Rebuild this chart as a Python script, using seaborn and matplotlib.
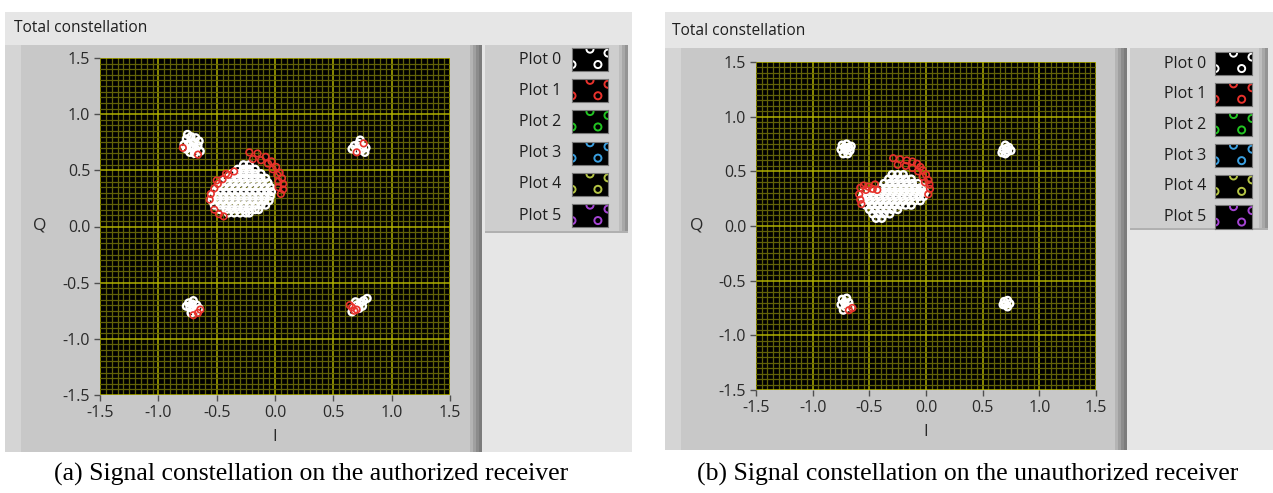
import numpy as np
import pandas as pd
import matplotlib.pyplot as plt
import seaborn as sns
from matplotlib.patches import Rectangle
from matplotlib.ticker import MultipleLocator

W, H = 1273, 493

# ---- data ----
# (a) authorized receiver
a_white_corner_i = [-0.76, -0.72, -0.68, -0.65, -0.78, -0.74, -0.70, -0.66, -0.76, -0.72, -0.68, -0.64, -0.73, -0.69, -0.75, -0.70,
                    0.68, 0.72, 0.75, 0.70, 0.74, 0.78, 0.77, 0.73, 0.66,
                    -0.74, -0.70, -0.67, -0.73, -0.70, -0.76, -0.72, -0.68, -0.65, -0.71,
                    0.70, 0.73, 0.76, 0.79, 0.68, 0.72, 0.66, 0.75, 0.69]
a_white_corner_q = [0.78, 0.80, 0.79, 0.76, 0.73, 0.74, 0.75, 0.72, 0.69, 0.70, 0.69, 0.67, 0.66, 0.65, 0.82, 0.71,
                    0.72, 0.74, 0.71, 0.68, 0.68, 0.70, 0.66, 0.77, 0.69,
                    -0.68, -0.66, -0.70, -0.72, -0.74, -0.71, -0.77, -0.76, -0.73, -0.69,
                    -0.70, -0.68, -0.66, -0.64, -0.73, -0.73, -0.76, -0.71, -0.67]
a_blob_q = [0.55, 0.51, 0.47, 0.43, 0.39, 0.35, 0.31, 0.27, 0.23, 0.19, 0.15, 0.12]
a_blob_i = [[-0.27, -0.22],
            [-0.32, -0.27, -0.22, -0.17],
            [-0.37, -0.32, -0.27, -0.22, -0.17, -0.12],
            [-0.42, -0.37, -0.32, -0.27, -0.22, -0.17, -0.12, -0.08],
            [-0.46, -0.41, -0.36, -0.31, -0.26, -0.21, -0.16, -0.11, -0.06],
            [-0.49, -0.44, -0.39, -0.34, -0.29, -0.24, -0.19, -0.14, -0.09, -0.04],
            [-0.52, -0.47, -0.42, -0.37, -0.32, -0.27, -0.22, -0.17, -0.12, -0.07, -0.03],
            [-0.54, -0.49, -0.44, -0.39, -0.34, -0.29, -0.24, -0.19, -0.14, -0.09, -0.04],
            [-0.54, -0.49, -0.44, -0.39, -0.34, -0.29, -0.24, -0.19, -0.14, -0.09, -0.05],
            [-0.52, -0.47, -0.42, -0.37, -0.32, -0.27, -0.22, -0.17, -0.12, -0.08],
            [-0.47, -0.42, -0.37, -0.32, -0.27, -0.22, -0.17, -0.14],
            [-0.40, -0.35, -0.30, -0.25, -0.22]]
a_red_i = [-0.22, -0.15, -0.08, -0.03, 0.01, 0.04, 0.06, 0.07, 0.07, 0.05,
           -0.19, -0.12, -0.06, -0.02, 0.02, 0.03, 0.03,
           -0.45, -0.40, -0.35, -0.49, -0.52, -0.55, -0.56, -0.50, -0.42,
           -0.48, -0.44, -0.52,
           -0.70, -0.66, -0.64, -0.79, -0.66, 0.66, 0.68, 0.70, 0.64, 0.70, 0.76]
a_red_q = [0.66, 0.65, 0.62, 0.58, 0.53, 0.48, 0.43, 0.38, 0.33, 0.29,
           0.60, 0.59, 0.56, 0.51, 0.46, 0.40, 0.35,
           0.42, 0.46, 0.49, 0.38, 0.34, 0.29, 0.24, 0.41, 0.47,
           0.11, 0.09, 0.15,
           -0.79, -0.77, -0.74, 0.70, 0.64, -0.72, -0.75, -0.74, -0.70, 0.66, 0.74]

# (b) unauthorized receiver
b_white_corner_i = [-0.74, -0.70, -0.66, -0.75, -0.71, -0.67, -0.73, -0.69, -0.72, -0.68,
                    0.70, 0.73, 0.68, 0.72, 0.75, 0.70, 0.67, 0.71,
                    -0.74, -0.70, -0.72, -0.68, -0.75, -0.71, -0.67, -0.73,
                    0.69, 0.72, 0.74, 0.70, 0.72, 0.68]
b_white_corner_q = [0.74, 0.75, 0.73, 0.70, 0.70, 0.69, 0.66, 0.66, 0.72, 0.72,
                    0.74, 0.72, 0.70, 0.68, 0.69, 0.66, 0.67, 0.71,
                    -0.67, -0.66, -0.70, -0.70, -0.72, -0.74, -0.74, -0.77,
                    -0.69, -0.68, -0.71, -0.72, -0.74, -0.72]
b_blob_q = [0.47, 0.43, 0.39, 0.35, 0.31, 0.27, 0.23, 0.19, 0.15, 0.11, 0.07]
b_blob_i = [[-0.30, -0.25, -0.20],
            [-0.33, -0.28, -0.23, -0.18, -0.13],
            [-0.37, -0.32, -0.27, -0.22, -0.17, -0.12, -0.07],
            [-0.40, -0.35, -0.30, -0.25, -0.20, -0.15, -0.10, -0.05, -0.02],
            [-0.55, -0.50, -0.45, -0.40, -0.35, -0.30, -0.25, -0.20, -0.15, -0.10, -0.05, -0.01],
            [-0.56, -0.51, -0.46, -0.41, -0.36, -0.31, -0.26, -0.21, -0.16, -0.11, -0.06, -0.02],
            [-0.55, -0.50, -0.45, -0.40, -0.35, -0.30, -0.25, -0.20, -0.15, -0.10, -0.05],
            [-0.53, -0.48, -0.43, -0.38, -0.33, -0.28, -0.23, -0.18, -0.13],
            [-0.50, -0.45, -0.40, -0.35, -0.30, -0.25],
            [-0.47, -0.42, -0.37, -0.32],
            [-0.44, -0.39]]
b_red_i = [-0.29, -0.23, -0.17, -0.12, -0.08, -0.05, -0.03, 0.00, 0.02, 0.03, 0.035, 0.02,
           -0.25, -0.18, -0.12, -0.07, -0.03, -0.01,
           -0.58, -0.55, -0.51, -0.47, -0.59, -0.58, -0.57, -0.53, -0.45, -0.43,
           -0.68, -0.65]
b_red_q = [0.62, 0.61, 0.60, 0.59, 0.57, 0.54, 0.51, 0.47, 0.42, 0.38, 0.34, 0.29,
           0.56, 0.55, 0.53, 0.50, 0.45, 0.40,
           0.35, 0.37, 0.36, 0.34, 0.29, 0.24, 0.20, 0.33, 0.38, 0.33,
           -0.77, -0.75]

plot_names = ['Plot 0', 'Plot 1', 'Plot 2', 'Plot 3', 'Plot 4', 'Plot 5']
plot_colors = ['#ffffff', '#e8322c', '#22c422', '#3a9fe0', '#b4c444', '#a544d4']
captions = ['(a) Signal constellation on the authorized receiver',
            '(b) Signal constellation on the unauthorized receiver']
ticks = [-1.5, -1.0, -0.5, 0.0, 0.5, 1.0, 1.5]


def series(corner_i, corner_q, blob_i, blob_q):
    xs = list(corner_i)
    ys = list(corner_q)
    for q, row in zip(blob_q, blob_i):
        xs += row
        ys += [q] * len(row)
    return pd.DataFrame({'I': xs, 'Q': ys})


panels = [
    dict(white=series(a_white_corner_i, a_white_corner_q, a_blob_i, a_blob_q),
         red=pd.DataFrame({'I': a_red_i, 'Q': a_red_q}),
         outer=(5, 12, 632, 452), head=(14, 28), frame=(5, 45, 482, 452),
         legend=(485, 45, 628, 233), plot=(100, 58, 450, 395),
         qlab=(40, 226), ilab=(275, 437), ltext=561, sw=(572, 608), ly0=59.5, ldy=31.2,
         cap=(311, 474)),
    dict(white=series(b_white_corner_i, b_white_corner_q, b_blob_i, b_blob_q),
         red=pd.DataFrame({'I': b_red_i, 'Q': b_red_q}),
         outer=(665, 12, 1273, 450), head=(672, 31), frame=(665, 48, 1127, 450),
         legend=(1130, 48, 1268, 230), plot=(756, 62, 1096, 390),
         qlab=(697, 226), ilab=(926, 432), ltext=1206, sw=(1215, 1252), ly0=63.5, ldy=30.7,
         cap=(968, 474)),
]

sns.set_theme(style='dark')
plt.rcParams['font.family'] = ['Open Sans', 'DejaVu Sans']

fig = plt.figure(figsize=(W / 100, H / 100), dpi=100)
fig.patch.set_facecolor('white')


def rect(x0, y0, x1, y1):
    return [x0 / W, 1 - y1 / H, (x1 - x0) / W, (y1 - y0) / H]


def box(x0, y0, x1, y1, color, z=-5):
    fig.add_artist(Rectangle((x0 / W, 1 - y1 / H), (x1 - x0) / W, (y1 - y0) / H,
                             transform=fig.transFigure, facecolor=color,
                             edgecolor='none', zorder=z))


def ftext(x, y, s, **kw):
    fig.text(x / W, 1 - y / H, s, **kw)


for idx, p in enumerate(panels):
    box(*p['outer'], '#e6e6e6', z=-6)
    # graph frame with light left strip and dark right bevel
    fx0, fy0, fx1, fy1 = p['frame']
    box(fx0, fy0, fx1, fy1, '#c8c8c8')
    box(fx0, fy0, fx0 + 16, fy1, '#d5d5d5', z=-4)
    for k, c in enumerate(['#b4b4b4', '#a0a0a0', '#8c8c8c', '#7c7c7c']):
        box(fx1 - 12 + k * 3, fy0, fx1 - 9 + k * 3, fy1, c, z=-4)
    # legend box
    lx0, ly0, lx1, ly1 = p['legend']
    box(lx0, ly0, lx1, ly1, '#cecece')
    for k, c in enumerate(['#bdbdbd', '#a8a8a8', '#949494']):
        box(lx1 - 9 + k * 3, ly0, lx1 - 6 + k * 3, ly1, c, z=-4)
    box(lx0, ly1 - 2, lx1, ly1, '#b0b0b0', z=-4)

    ftext(*p['head'], 'Total constellation', fontsize=11.2, color='#1e1e1e', va='center')

    ax = fig.add_axes(rect(*p['plot']))
    ax.set_facecolor('black')
    sns.scatterplot(data=p['white'], x='I', y='Q', ax=ax, marker='o', s=24,
                    facecolors='none', edgecolor=plot_colors[0], linewidth=1.7,
                    legend=False, zorder=3)
    sns.scatterplot(data=p['red'], x='I', y='Q', ax=ax, marker='o', s=22,
                    facecolors='none', edgecolor=plot_colors[1], linewidth=1.2,
                    legend=False, zorder=4)
    ax.set_xlim(-1.5, 1.5)
    ax.set_ylim(-1.5, 1.5)
    ax.set_xticks(ticks)
    ax.set_yticks(ticks)
    ax.set_xticklabels([f'{t:.1f}' for t in ticks])
    ax.set_yticklabels([f'{t:.1f}' for t in ticks])
    ax.xaxis.set_minor_locator(MultipleLocator(0.05))
    ax.yaxis.set_minor_locator(MultipleLocator(0.05))
    ax.grid(which='minor', color='#626208', linewidth=0.9, zorder=0)
    ax.grid(which='major', color='#b0b000', linewidth=1.1, zorder=1)
    ax.set_axisbelow(True)
    ax.tick_params(which='major', length=4, width=1, color='#505050',
                   labelsize=11.5, labelcolor='#2a2a2a', pad=3, bottom=True, left=True)
    ax.tick_params(which='minor', length=0)
    ax.set_xlabel('')
    ax.set_ylabel('')
    for s in ax.spines.values():
        s.set_visible(False)

    ftext(*p['qlab'], 'Q', fontsize=12.5, color='#2a2a2a', ha='center', va='center')
    ftext(*p['ilab'], 'I', fontsize=12, color='#2a2a2a', ha='center', va='center')

    # legend rows
    sx0, sx1 = p['sw']
    for k, (name, col) in enumerate(zip(plot_names, plot_colors)):
        cy = p['ly0'] + k * p['ldy']
        ftext(p['ltext'], cy, name, fontsize=11.5, color='#1e1e1e', ha='right', va='center')
        sax = fig.add_axes(rect(sx0, cy - 11.5, sx1, cy + 11.5))
        sax.set_facecolor('black')
        sax.set_xlim(0, 1)
        sax.set_ylim(0, 1)
        sax.set_xticks([])
        sax.set_yticks([])
        for s in sax.spines.values():
            s.set_color('#777777')
            s.set_linewidth(0.8)
        sns.scatterplot(x=[0.5, 0.0, 1.0, 0.72], y=[0.95, 0.28, 0.78, 0.28], ax=sax,
                        marker='o', s=26, facecolors='none', edgecolor=col,
                        linewidth=1.4, legend=False, clip_on=True)

    ftext(*p['cap'], captions[idx], fontsize=18.5, color='black',
          ha='center', va='center', family=['Liberation Serif', 'DejaVu Serif'])

fig.savefig('out.png', dpi=100, facecolor='white')
